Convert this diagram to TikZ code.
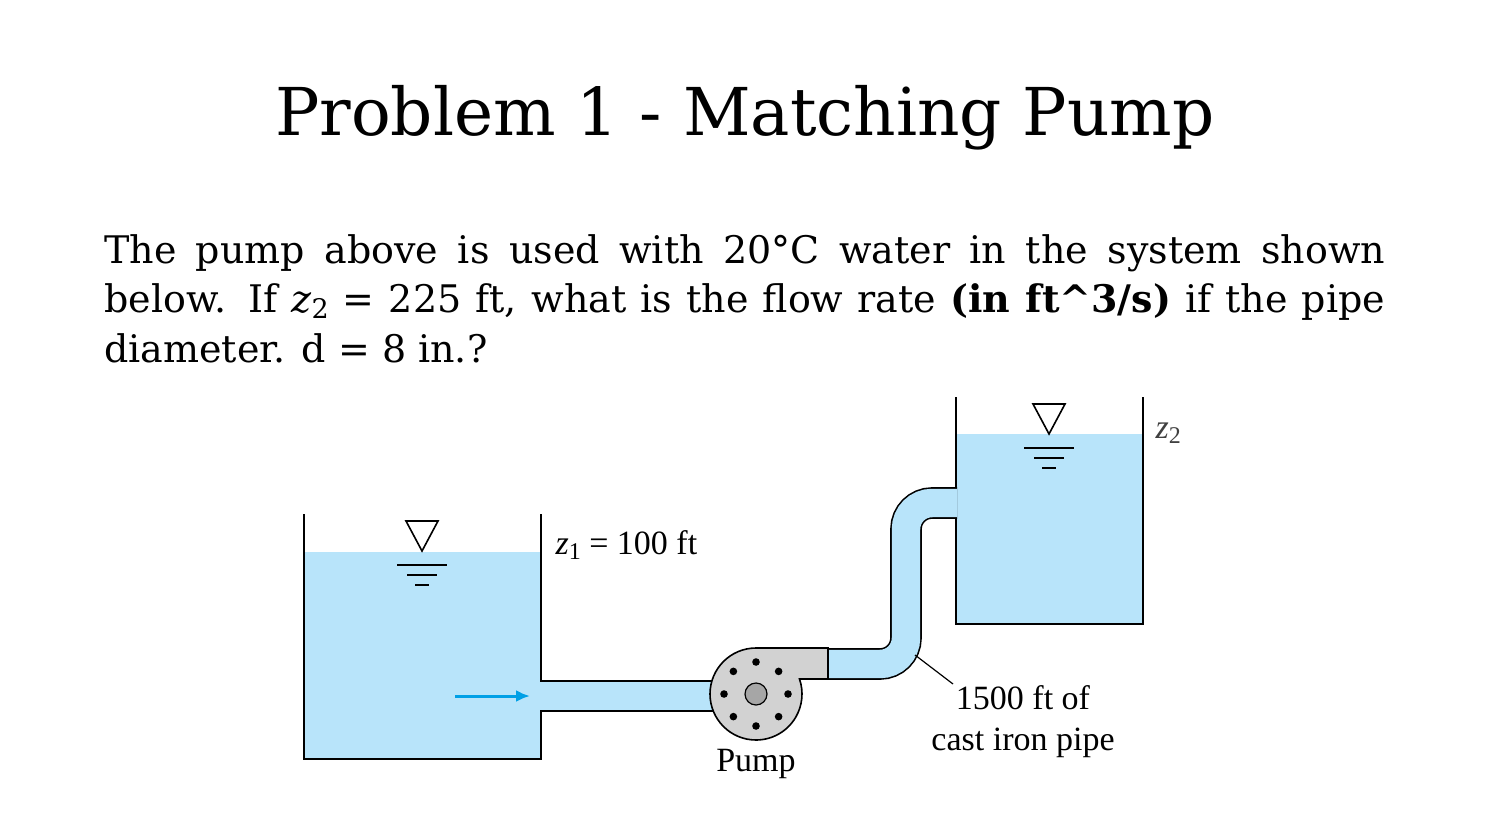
\documentclass[tikz,border=0pt]{standalone}
\usepackage{fontspec}
\usetikzlibrary{arrows.meta}
\newfontfamily\tms{Liberation Serif}
\newfontfamily\dvs{DejaVu Serif}
\definecolor{water}{RGB}{184,228,250}
\definecolor{pumpgray}{RGB}{210,210,210}
\definecolor{arrowblue}{RGB}{0,160,230}
\begin{document}
\begin{tikzpicture}[x=1pt,y=1pt,line join=miter,
  wall/.style={line width=1.6pt},
  lbl/.style={font=\tms\fontsize{34}{40}\selectfont},
  level/.style={line width=1.6pt}]
\useasboundingbox (0,0) rectangle (1493,-825);
\node (title) at (745,-118) {\dvs\fontsize{66}{74}\selectfont Problem 1 - Matching Pump};
\node[anchor=north west,inner sep=0pt,text width=1281pt,align=justify,font=\dvs\fontsize{38}{49.5}\selectfont] (body) at (104,-234)
 {The pump above is used with 20\textdegree C water in the system shown\linebreak below. If \textit{z}\raisebox{-6pt}{\fontsize{27}{27}\selectfont 2} = 225 ft, what is the flow rate \textbf{(in ft\^{}3/s)} if the pipe\linebreak diameter. d = 8 in.?};
% left tank
\fill[water] (304,-552) -- (541,-552) -- (541,-681) -- (713,-681) -- (713,-711) -- (541,-711) -- (541,-759) -- (304,-759) -- cycle;
\draw[wall] (304,-514) -- (304,-759) -- (541,-759) -- (541,-711) -- (713,-711);
\draw[wall] (541,-514) -- (541,-681) -- (713,-681);
% right tank
\fill[water] (956,-434) rectangle (1143,-624);
\draw[wall] (956,-397) -- (956,-488);
\draw[wall] (956,-518) -- (956,-624) -- (1143,-624) -- (1143,-397);
% pipe
\coordinate (p0) at (826,-664);
\coordinate (p1) at (906,-664);
\coordinate (p2) at (906,-503);
\coordinate (p3) at (957,-503);
\draw[line width=1.6pt,double=water,double distance=28.4pt,rounded corners=26pt] (p0) -- (p1) -- (p2) -- (p3);
% pump
\draw[wall,fill=pumpgray] (828,-648) -- (756,-648) arc[start angle=90,end angle=379,radius=46] -- (828,-679) -- cycle;
\draw[line width=1.2pt,fill=gray!70] (756,-694) circle (11);
\foreach \a in {0,45,...,315} \fill (756,-694) ++(\a:32) circle (3.8);
% arrow
\draw[arrowblue,line width=3pt,-{Latex[length=14pt,width=12pt]}] (455,-696) -- (530,-696);
% level symbols
\foreach \cx/\ty in {422/-521,1049/-404}{
  \draw[line width=1.6pt] (\cx-16,\ty) -- (\cx+16,\ty) -- (\cx,\ty-30) -- cycle;
  \draw[level] (\cx-25,\ty-44) -- (\cx+25,\ty-44);
  \draw[level] (\cx-15,\ty-54) -- (\cx+15,\ty-54);
  \draw[level] (\cx-7,\ty-64) -- (\cx+7,\ty-64);
}
% labels
\node[lbl,anchor=west] (z1) at (552,-545) {\textit{z}\raisebox{-5pt}{\fontsize{24}{24}\selectfont 1} = 100 ft};
\node[lbl,anchor=west,text=black!75] (z2) at (1152,-433) {\textit{z}\raisebox{-5pt}{\fontsize{24}{24}\selectfont 2}};
\node[lbl] (pumpl) at (756,-764) {Pump};
\node[lbl,align=center,font=\tms\fontsize{34}{41}\selectfont] (pipel) at (1023,-722) {1500 ft of\\cast iron pipe};
\coordinate (lead) at (915,-655);
\draw[line width=1.2pt] (lead) -- (953,-684);
\end{tikzpicture}
\end{document}
